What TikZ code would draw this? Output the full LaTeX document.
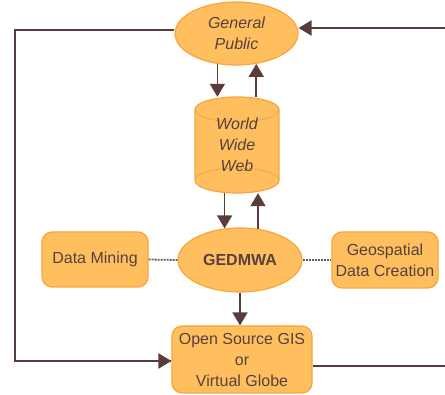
\documentclass[tikz,border=0pt]{standalone}
\usepackage{fontspec}
\setmainfont{Liberation Sans}
\usetikzlibrary{shapes.geometric,arrows.meta,backgrounds}
\definecolor{boxfill}{HTML}{FFBF5E}
\definecolor{boxline}{HTML}{F7A53C}
\definecolor{innerline}{HTML}{F2A24A}
\definecolor{txt}{HTML}{574040}
\definecolor{conn}{HTML}{5A3C3C}
\definecolor{dotc}{HTML}{6E5656}
\tikzset{
  base/.style={fill=boxfill,draw=boxline,line width=1.2pt,text=txt,align=center,
    font=\fontsize{16}{21}\selectfont,inner sep=0pt},
  oval/.style={base,ellipse},
  rbox/.style={base,rounded corners=10pt},
  arr/.style={draw=conn,line width=1.8pt,-{Triangle[length=13pt,width=15pt]}},
  loopline/.style={draw=conn,line width=2pt},
  dotline/.style={draw=dotc,line width=1.8pt,dash pattern=on 2pt off 1pt},
}
\begin{document}
\begin{tikzpicture}[x=1pt,y=-1pt]
\useasboundingbox (0,0) rectangle (445,395);
% nodes
\node[oval,minimum width=123pt,minimum height=63pt] (gp) at (236.5,33.5) {\itshape General\\\itshape Public};
\node[text=txt,align=center,font=\fontsize{16}{21}\selectfont\itshape,inner sep=0pt,
      minimum width=84pt,minimum height=96pt] (www) at (237,145) {World\\Wide\\Web};
\node[oval,minimum width=124pt,minimum height=64pt] (ged) at (240,260) {\bfseries GEDMWA};
\node[rbox,minimum width=106pt,minimum height=55pt] (dm) at (95,259.5) {Data Mining};
\node[rbox,minimum width=106pt,minimum height=56pt] (geo) at (385,260) {Geospatial\\Data Creation};
\node[rbox,minimum width=140pt,minimum height=67pt] (os) at (242,359.5) {Open Source GIS\\or\\Virtual Globe};
% cylinder drawing behind the WWW text
\begin{scope}[on background layer]
  \path[fill=boxfill,draw=boxline,line width=1.2pt]
    (195,109.5) arc[start angle=180,end angle=360,x radius=42,y radius=12.5]
    -- (279,180.5) arc[start angle=0,end angle=180,x radius=42,y radius=12.5] -- cycle;
  \draw[innerline,line width=0.8pt] (195,109.5) arc[start angle=180,end angle=0,x radius=42,y radius=12.5];
  \draw[innerline,line width=0.8pt] (195,180.5) arc[start angle=180,end angle=360,x radius=42,y radius=12.5];
\end{scope}
% vertical arrows
\draw[arr] (gp.238) -- (gp.238 |- www.north);
\draw[arr] (gp.303 |- www.north) -- (gp.303);
\draw[arr] (www.south -| ged.116) -- (ged.116);
\draw[arr] (ged.60) -- (ged.60 |- www.south);
\draw[arr] (ged.south) -- (ged.south |- os.north);
% dotted links
\draw[dotline] (dm.east) -- (ged.west);
\draw[dotline] (ged.east) -- (geo.west);
% loops
\coordinate (lt) at (15,30);
\coordinate (lb) at (15,361);
\coordinate (rt) at (452,28);
\coordinate (rb) at (452,366);
\draw[loopline] (gp.west |- lt) -- (lt) -- (lb) -- (os.west |- lb);
\draw[arr,line width=2pt] (lb) -- (os.west |- lb);
\draw[loopline] (os.east |- rb) -- (rb) -- (rt);
\draw[arr,line width=2pt] (rt) -- (gp.east |- rt);
\end{tikzpicture}
\end{document}
